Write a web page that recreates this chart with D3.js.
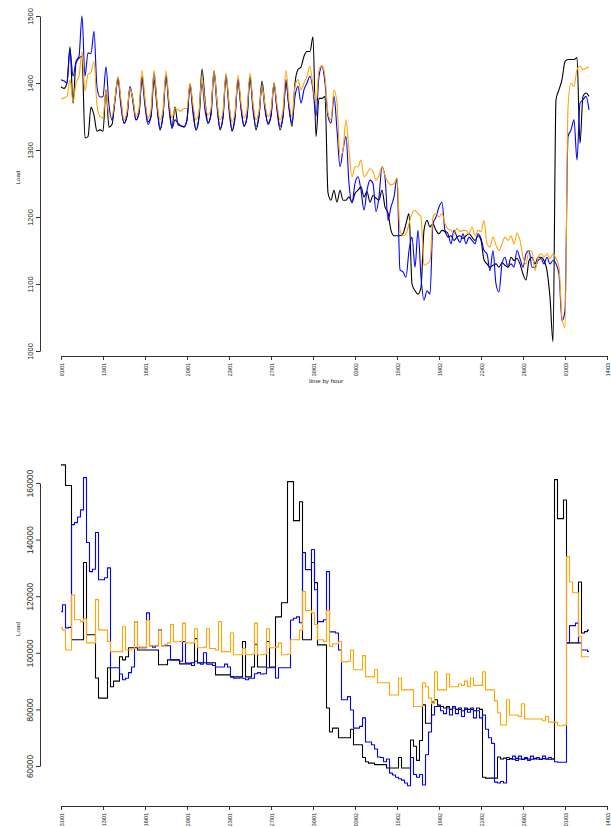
<!DOCTYPE html>
<html>
<head>
<meta charset="utf-8">
<script src="https://cdn.jsdelivr.net/npm/d3@7"></script>
<style>
  body { margin: 0; background: #fff; }
  svg { display: block; font-family: "Liberation Sans", Arial, sans-serif; }
</style>
</head>
<body>
<div id="chart"></div>
<script>
// one sample every 6 hours
const stepHours = 6;

const tickHours = [0, 84, 168, 252, 336, 420, 504, 588, 672, 756, 840, 924, 1008, 1092];
const tickLabelsTop = ["01/01", "13/01", "16/01", "20/01", "23/01", "27/01", "30/01",
  "03/02", "15/02", "19/02", "22/02", "26/02", "01/03", "14/03"];
const tickLabelsBottom = ["31/01", "13/01", "16/01", "20/01", "23/01", "27/01", "30/01",
  "03/02", "15/02", "19/02", "22/02", "26/02", "01/03", "14/03"];

const topTicks = [1000, 1100, 1200, 1300, 1400, 1500];
const bottomTicks = [60000, 80000, 100000, 120000, 140000, 160000];

// top panel
const topBlack = [
  1394, 1392, 1400, 1454, 1370, 1430, 1437, 1440, 1318, 1320,
  1364, 1352, 1328, 1330, 1328, 1390, 1334, 1338, 1375, 1405,
  1370, 1340, 1350, 1393, 1375, 1345, 1355, 1410, 1372, 1342,
  1350, 1405, 1365, 1330, 1352, 1410, 1368, 1334, 1364, 1338,
  1336, 1335, 1345, 1398, 1360, 1330, 1350, 1421, 1375, 1340,
  1355, 1418, 1372, 1330, 1350, 1410, 1368, 1328, 1348, 1405,
  1365, 1335, 1350, 1408, 1365, 1330, 1352, 1403, 1365, 1338,
  1350, 1400, 1362, 1330, 1350, 1400, 1365, 1335, 1400, 1420,
  1424, 1440, 1447, 1447, 1469, 1320, 1377, 1377, 1380, 1236,
  1225, 1240, 1222, 1240, 1225, 1225, 1230, 1222, 1235, 1240,
  1245, 1230, 1238, 1222, 1232, 1228, 1225, 1240, 1215, 1206,
  1180, 1172, 1172, 1172, 1175, 1190, 1205, 1100, 1090, 1085,
  1095, 1180, 1195, 1185, 1190, 1180, 1175, 1180, 1178, 1170,
  1172, 1165, 1170, 1172, 1168, 1172, 1175, 1170, 1165, 1172,
  1165, 1136, 1130, 1125, 1128, 1130, 1125, 1132, 1128, 1125,
  1140, 1135, 1138, 1130, 1115, 1106, 1135, 1140, 1130, 1140,
  1140, 1135, 1120, 1080, 1014, 1375, 1390, 1405, 1432, 1435,
  1435, 1435, 1438, 1310, 1380, 1385, 1380
];
const topBlue = [
  1405, 1403, 1400, 1450, 1410, 1432, 1440, 1500, 1410, 1445,
  1444, 1477, 1394, 1379, 1380, 1424, 1367, 1345, 1375, 1408,
  1365, 1340, 1352, 1395, 1370, 1345, 1355, 1405, 1365, 1338,
  1350, 1415, 1370, 1332, 1352, 1412, 1362, 1332, 1345, 1340,
  1336, 1334, 1345, 1398, 1355, 1330, 1348, 1400, 1360, 1340,
  1352, 1415, 1365, 1332, 1348, 1412, 1360, 1330, 1350, 1405,
  1362, 1336, 1348, 1410, 1360, 1335, 1350, 1395, 1360, 1340,
  1352, 1398, 1360, 1335, 1350, 1405, 1362, 1340, 1380, 1395,
  1370, 1390, 1400, 1410, 1390, 1350, 1410, 1425, 1400, 1350,
  1340, 1380, 1330, 1275, 1300, 1320, 1250, 1221, 1250, 1260,
  1240, 1210, 1240, 1255, 1250, 1208, 1230, 1275, 1260, 1195,
  1215, 1230, 1258, 1121, 1118, 1110, 1150, 1170, 1125, 1180,
  1110, 1076, 1090, 1085, 1190, 1200, 1215, 1222, 1180, 1175,
  1160, 1180, 1170, 1162, 1175, 1160, 1170, 1165, 1160, 1175,
  1168, 1150, 1145, 1120, 1150, 1100, 1088, 1130, 1140, 1125,
  1130, 1125, 1150, 1138, 1125, 1145, 1150, 1125, 1125, 1135,
  1138, 1130, 1140, 1130, 1135, 1130, 1115, 1045, 1060, 1320,
  1330, 1345, 1285, 1370, 1375, 1380, 1360
];
const topOrange = [
  1376, 1378, 1380, 1405, 1372, 1400, 1410, 1447, 1388, 1413,
  1416, 1432, 1367, 1350, 1348, 1390, 1350, 1350, 1378, 1410,
  1375, 1345, 1358, 1392, 1375, 1350, 1362, 1419, 1375, 1348,
  1360, 1419, 1372, 1345, 1360, 1418, 1372, 1348, 1362, 1360,
  1358, 1362, 1362, 1400, 1368, 1345, 1358, 1410, 1370, 1352,
  1362, 1419, 1372, 1345, 1358, 1415, 1370, 1342, 1356, 1412,
  1370, 1348, 1360, 1415, 1370, 1345, 1358, 1395, 1368, 1350,
  1360, 1400, 1368, 1345, 1360, 1419, 1372, 1350, 1395, 1405,
  1390, 1400, 1410, 1425, 1395, 1370, 1420, 1426, 1410, 1355,
  1345, 1390, 1370, 1290, 1300, 1345, 1300, 1260, 1275, 1275,
  1285, 1260, 1265, 1272, 1268, 1255, 1262, 1275, 1262, 1252,
  1248, 1250, 1258, 1180, 1172, 1175, 1190, 1205, 1210, 1205,
  1200, 1128, 1130, 1135, 1200, 1205, 1200, 1205, 1190, 1182,
  1180, 1175, 1183, 1178, 1180, 1180, 1175, 1185, 1172, 1180,
  1178, 1195, 1160, 1155, 1170, 1158, 1150, 1160, 1170, 1165,
  1172, 1160, 1176, 1165, 1140, 1130, 1150, 1148, 1120, 1140,
  1145, 1140, 1145, 1138, 1145, 1138, 1125, 1050, 1035, 1364,
  1400, 1395, 1420, 1425, 1420, 1422, 1424
];

// bottom panel
const bottomBlack = [
  166400, 166400, 159100, 159100, 104600, 104600, 104600, 104600, 131900, 106400,
  106400, 106400, 91100, 84000, 84000, 84000, 94700, 88000, 90000, 90000,
  98600, 97500, 98600, 101800, 101800, 101800, 101000, 101000, 101000, 101000,
  101000, 101000, 101000, 95800, 95800, 95800, 97500, 97500, 97500, 97500,
  96100, 96100, 96100, 96100, 96500, 105000, 96500, 96500, 96500, 96500,
  96500, 96500, 92200, 92200, 92200, 92200, 92200, 91500, 91500, 91500,
  91500, 104000, 91500, 91500, 95000, 103000, 95000, 95000, 95000, 104000,
  95000, 95000, 112700, 112700, 117700, 117700, 160500, 160500, 146700, 146700,
  153400, 104600, 104600, 104600, 131900, 124800, 102800, 102800, 102800, 80500,
  72000, 73400, 73400, 70000, 70000, 70000, 70000, 73000, 67500, 67500,
  67500, 63000, 61500, 61000, 61000, 60500, 60500, 60500, 60500, 59300,
  59300, 59300, 59300, 63000, 59300, 59300, 59300, 69200, 67000, 62000,
  69000, 81600, 75100, 75100, 82600, 83400, 81500, 81000, 80500, 81000,
  80000, 80500, 80000, 80500, 79500, 80500, 80000, 80000, 79500, 80500,
  80000, 56000, 55700, 55700, 55700, 55700, 63200, 62500, 62800, 62300,
  62600, 62400, 62700, 62500, 62300, 62600, 62500, 62400, 62700, 62500,
  62300, 62600, 62500, 62400, 62500, 161200, 147400, 147400, 154000, 103500,
  103500, 103500, 103500, 125000, 107000, 107500, 108000
];
const bottomBlue = [
  114500, 117000, 108800, 109000, 145300, 146000, 148000, 150500, 161900, 139000,
  128700, 129500, 142500, 125800, 125800, 126500, 130000, 94700, 94700, 94700,
  92500, 90500, 91000, 93000, 95000, 111000, 101800, 101800, 101800, 114100,
  102500, 102000, 102500, 108100, 102500, 102500, 102500, 97500, 97500, 97500,
  97000, 104000, 96400, 96400, 95500, 97000, 96400, 96000, 100000, 96000,
  96000, 95500, 95000, 95000, 95000, 96000, 95000, 91500, 91000, 91000,
  91100, 91000, 90500, 91000, 91000, 92600, 93000, 92500, 92600, 94700,
  94700, 94700, 91100, 94700, 94700, 94700, 94700, 111600, 112200, 112700,
  110600, 135400, 129400, 129400, 136500, 122300, 111000, 111000, 111700, 128700,
  107400, 107400, 107000, 101000, 83400, 83400, 84500, 79800, 73400, 73400,
  74000, 77000, 68500, 68500, 67500, 66000, 63200, 63000, 61500, 62500,
  57500, 56800, 56000, 55500, 55000, 54000, 53000, 63000, 57000, 56000,
  57000, 53300, 64000, 72000, 78000, 81000, 81000, 79500, 78500, 80500,
  78000, 81000, 78500, 80000, 77500, 80000, 79000, 80500, 77000, 79500,
  77000, 78000, 73000, 70000, 68000, 54300, 54000, 54500, 54000, 63000,
  62500, 63500, 62000, 63500, 62500, 63000, 62000, 63500, 62500, 63000,
  62500, 63500, 62500, 63000, 62500, 61500, 61300, 61300, 61300, 103500,
  109600, 109600, 110500, 103500, 101000, 101000, 100500
];
const bottomOrange = [
  108800, 108000, 101000, 101000, 120500, 111700, 111700, 111000, 112000, 103500,
  103500, 103500, 118800, 108100, 108100, 108000, 104000, 100400, 100400, 100400,
  100400, 109200, 101000, 101000, 101500, 111000, 102000, 102000, 102000, 111500,
  102500, 102500, 102500, 108000, 102500, 103000, 103500, 110000, 103900, 103900,
  104000, 110500, 103500, 103500, 103500, 108500, 101800, 101800, 102000, 108500,
  101500, 101500, 101000, 111000, 100400, 100400, 100400, 107000, 99300, 99300,
  99300, 101500, 99300, 99300, 99500, 110500, 99300, 99300, 99500, 108500,
  101800, 101800, 102000, 103500, 99300, 99300, 99500, 104600, 104600, 104600,
  108000, 121600, 114900, 114900, 114100, 110000, 104600, 104600, 104000, 114900,
  102200, 103200, 103200, 104000, 96800, 96800, 97000, 101000, 94000, 94000,
  94000, 99000, 91500, 91500, 91500, 94000, 89400, 89400, 89400, 89400,
  85100, 85100, 85100, 91000, 86900, 86900, 86900, 87000, 81000, 81000,
  81000, 89400, 88000, 84000, 82000, 93300, 86900, 86900, 86900, 92500,
  88000, 88000, 88000, 89000, 88500, 90000, 88000, 91000, 88500, 88500,
  88500, 93300, 86900, 86900, 86900, 83000, 78800, 74500, 74500, 83400,
  78000, 78000, 78000, 77500, 82000, 76600, 76600, 76600, 76600, 76600,
  76600, 76000, 77500, 75500, 75500, 75500, 74200, 74200, 74500, 134000,
  125000, 121200, 121200, 105700, 98600, 98600, 98600
];

const colors = { black: "#000000", blue: "#0000FF", orange: "#FFA500" };

const width = 611;
const height = 827;

const svg = d3
  .select("#chart")
  .append("svg")
  .attr("width", width)
  .attr("height", height);

const xScale = d3.scaleLinear().domain([0, 1092]).range([61, 607]);

function drawPanel(p) {
  const yScale = d3.scaleLinear().domain(p.yDomain).range(p.yRange);
  const g = svg.append("g");

  // lines
  const line = d3
    .line()
    .curve(p.curve)
    .x((d, i) => xScale(i * stepHours))
    .y((d) => yScale(d));

  p.series.forEach((s) => {
    g.append("path")
      .datum(s.values)
      .attr("fill", "none")
      .attr("stroke", s.color)
      .attr("stroke-width", 1.1)
      .attr("stroke-linejoin", "round")
      .attr("d", line);
  });

  // y axis
  const yAxis = g
    .append("g")
    .attr("transform", "translate(40,0)")
    .call(
      d3.axisLeft(yScale)
        .tickValues(p.yTicks)
        .tickSize(4)
        .tickSizeOuter(0)
        .tickFormat(d3.format("d"))
    );
  yAxis.select(".domain").attr("stroke", "#333");
  yAxis.selectAll(".tick line").attr("stroke", "#333");
  yAxis
    .selectAll(".tick text")
    .attr("x", null)
    .attr("dy", null)
    .attr("text-anchor", "middle")
    .attr("transform", "translate(-7,0) rotate(-90)")
    .attr("fill", "#222")
    .style("font-size", p.yFont + "px");

  // x axis
  const xAxis = g
    .append("g")
    .attr("transform", `translate(0,${p.xAxisY})`)
    .call(
      d3.axisBottom(xScale)
        .tickValues(tickHours)
        .tickSize(4)
        .tickSizeOuter(0)
        .tickFormat((d, i) => p.xLabels[i])
    );
  xAxis.select(".domain").attr("stroke", "#333");
  xAxis.selectAll(".tick line").attr("stroke", "#333");
  xAxis
    .selectAll(".tick text")
    .attr("y", null)
    .attr("dy", null)
    .attr("text-anchor", "end")
    .attr("transform", "translate(2,7) rotate(-90)")
    .attr("fill", "#222")
    .style("font-size", "5.3px");

  // axis titles
  g.append("text")
    .attr("transform", `translate(19.5,${p.loadY}) rotate(-90)`)
    .attr("text-anchor", "middle")
    .attr("fill", "#222")
    .style("font-size", "6.2px")
    .text("Load");

  if (p.xTitle) {
    g.append("text")
      .attr("x", 326)
      .attr("y", p.xAxisY + 27)
      .attr("text-anchor", "middle")
      .attr("fill", "#222")
      .style("font-size", "6.2px")
      .text(p.xTitle);
  }
}

drawPanel({
  yDomain: [1000, 1500],
  yRange: [351, 16],
  yTicks: topTicks,
  yFont: 7.5,
  xAxisY: 356,
  xLabels: tickLabelsTop,
  xTitle: "time by hour",
  loadY: 177.5,
  curve: d3.curveMonotoneX,
  series: [
    { values: topBlack, color: colors.black },
    { values: topBlue, color: colors.blue },
    { values: topOrange, color: colors.orange },
  ],
});

drawPanel({
  yDomain: [60000, 160000],
  yRange: [766, 483],
  yTicks: bottomTicks,
  yFont: 8.3,
  xAxisY: 806,
  xLabels: tickLabelsBottom,
  xTitle: null,
  loadY: 629,
  curve: d3.curveStep,
  series: [
    { values: bottomBlack, color: colors.black },
    { values: bottomBlue, color: colors.blue },
    { values: bottomOrange, color: colors.orange },
  ],
});
</script>
</body>
</html>
